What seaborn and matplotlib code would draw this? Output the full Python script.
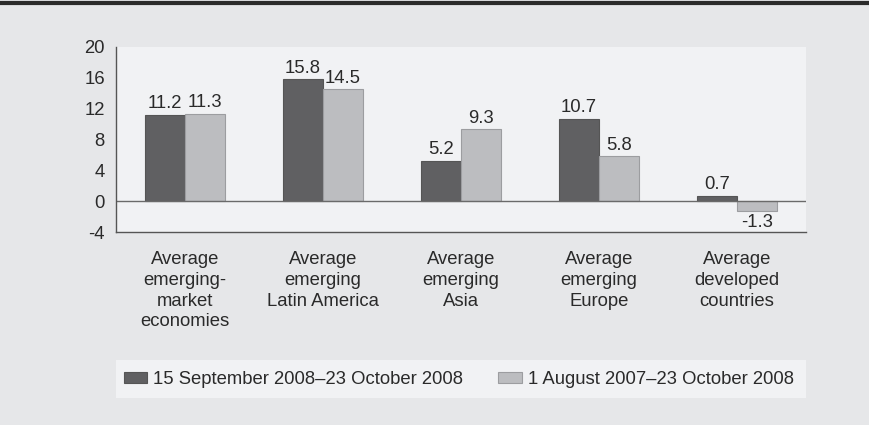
import pandas as pd
import matplotlib.pyplot as plt
import matplotlib.patches as mpatches
from matplotlib.lines import Line2D
import seaborn as sns

# Data
regions = ['Average\nemerging-\nmarket\neconomies',
           'Average\nemerging\nLatin America',
           'Average\nemerging\nAsia',
           'Average\nemerging\nEurope',
           'Average\ndeveloped\ncountries']
periods = ['15 September 2008\u201323 October 2008',
           '1 August 2007\u201323 October 2008']
recent_vals = [11.2, 15.8, 5.2, 10.7, 0.7]
longer_vals = [11.3, 14.5, 9.3, 5.8, -1.3]
y_ticks = [-4, 0, 4, 8, 12, 16, 20]

df = pd.DataFrame({
    'region': regions * 2,
    'period': [periods[0]] * 5 + [periods[1]] * 5,
    'value': recent_vals + longer_vals,
})

sns.set_style('white')
plt.rcParams['font.family'] = ['Liberation Sans', 'DejaVu Sans']
plt.rcParams['axes.unicode_minus'] = False

dark = '#606062'
light = '#bcbdc0'
dark_edge = '#555555'
light_edge = '#9c9da0'
text_col = '#2a2a2a'
fs = 13.3

fig = plt.figure(figsize=(8.69, 4.25), dpi=100, facecolor='#e6e7e9')
ax = fig.add_axes([0.1335, 0.454, 0.794, 0.4355])
ax.set_facecolor('#f1f2f4')

sns.barplot(data=df, x='region', y='value', hue='period', palette=[dark, light],
            width=0.58, saturation=1, ax=ax, legend=False)

# edge colours per series + value labels
for i, cont in enumerate(ax.containers):
    for p in cont:
        p.set_edgecolor(dark_edge if i == 0 else light_edge)
        p.set_linewidth(0.8)
    ax.bar_label(cont, fmt='%.1f', padding=2, fontsize=fs, color=text_col)

ax.axhline(0, color='#6a6a6a', lw=1, zorder=1)

ax.set_ylim(-4, 20)
ax.set_yticks(y_ticks)
ax.set_xlim(-0.5, 4.5)
ax.set_xlabel('')
ax.set_ylabel('')

for s in ['top', 'right']:
    ax.spines[s].set_visible(False)
for s in ['left', 'bottom']:
    ax.spines[s].set_color('#555555')
    ax.spines[s].set_linewidth(1)

ax.tick_params(axis='y', direction='in', length=5, width=1, color='#555555',
               labelsize=fs, labelcolor=text_col, pad=8)
ax.tick_params(axis='x', which='major', length=0, labelsize=fs,
               labelcolor=text_col, pad=14)
ax.set_xticks([0.5, 1.5, 2.5, 3.5, 4.5], minor=True)
ax.tick_params(axis='x', which='minor', direction='in', length=5, width=1,
               color='#555555')
for lab in ax.get_xticklabels():
    lab.set_horizontalalignment('center')
    lab.set_multialignment('center')
    lab.set_linespacing(1.28)

# legend panel
fig.patches.append(mpatches.Rectangle((0.1335, 0.0635), 0.794, 0.089,
                                      transform=fig.transFigure,
                                      facecolor='#f1f2f4', edgecolor='none',
                                      zorder=0))
handles = [mpatches.Patch(facecolor=dark, edgecolor=dark_edge, lw=0.8),
           mpatches.Patch(facecolor=light, edgecolor=light_edge, lw=0.8)]
fig.legend(handles, periods, loc='center left',
           bbox_to_anchor=(0.1344, 0.108), ncol=2, frameon=False,
           borderaxespad=0, fontsize=fs, handlelength=1.25, handleheight=0.55,
           handletextpad=0.33, columnspacing=1.9, labelcolor=text_col)

# heavy rule across the top
fig.add_artist(Line2D([0, 1], [0.993, 0.993], transform=fig.transFigure,
                      color='#2b2b2b', lw=3))

fig.savefig('out.png', dpi=100, facecolor=fig.get_facecolor())
